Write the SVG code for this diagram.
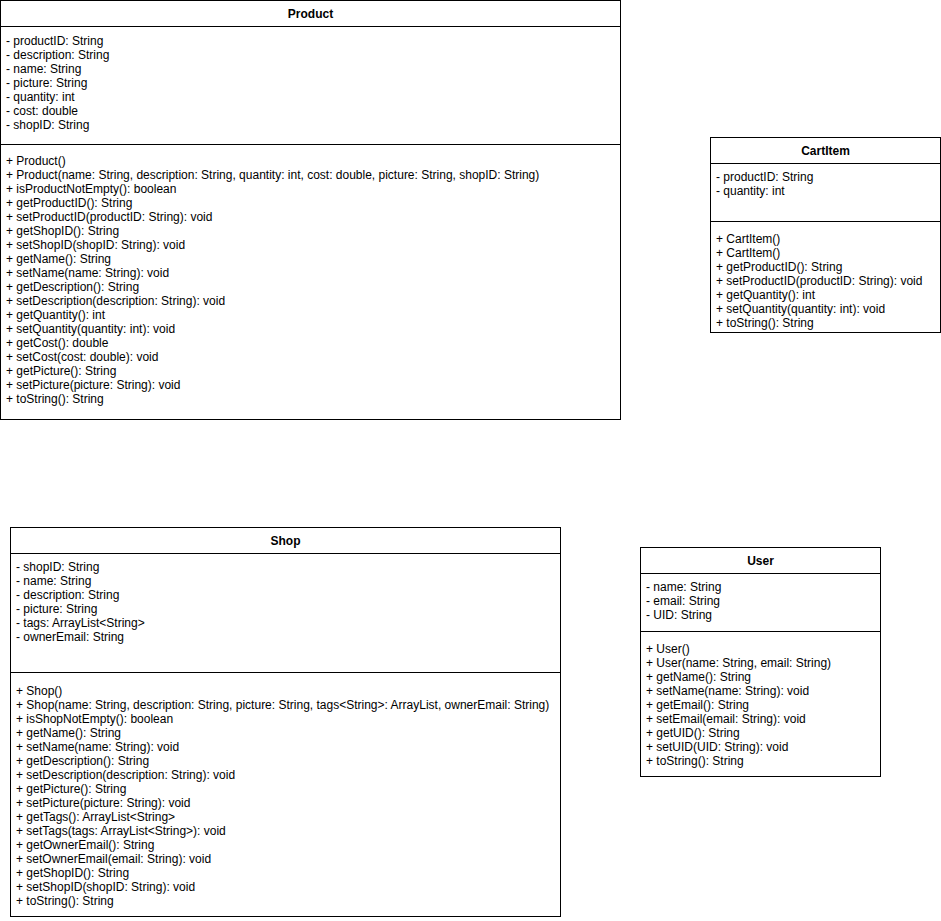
<svg xmlns="http://www.w3.org/2000/svg" width="941" height="921" viewBox="0 0 941 921">
<style>
rect.box{fill:#ffffff;stroke:#000000;stroke-width:1}
line.sep{stroke:#000000;stroke-width:1}
text{font-family:"Liberation Sans",Arial,Helvetica,sans-serif;font-size:12px;fill:#000000}
text.title{font-weight:bold;text-anchor:middle}
</style>
<rect x="0" y="0" width="941" height="921" fill="#ffffff"/>
<g id="connectors"></g>
<g id="Product">
<rect class="box" x="0.5" y="0.5" width="620" height="419"/>
<line class="sep" x1="0.5" y1="26.5" x2="620.5" y2="26.5"/>
<line class="sep" x1="0.5" y1="144.5" x2="620.5" y2="144.5"/>
<text class="title" x="310.5" y="17.5">Product</text>
<text x="6" y="45"><tspan x="6">- productID: String</tspan><tspan x="6" dy="14">- description: String</tspan><tspan x="6" dy="14">- name: String</tspan><tspan x="6" dy="14">- picture: String</tspan><tspan x="6" dy="14">- quantity: int</tspan><tspan x="6" dy="14">- cost: double</tspan><tspan x="6" dy="14">- shopID: String</tspan></text>
<text x="6" y="165"><tspan x="6">+ Product()</tspan><tspan x="6" dy="14">+ Product(name: String, description: String, quantity: int, cost: double, picture: String, shopID: String)</tspan><tspan x="6" dy="14">+ isProductNotEmpty(): boolean</tspan><tspan x="6" dy="14">+ getProductID(): String</tspan><tspan x="6" dy="14">+ setProductID(productID: String): void</tspan><tspan x="6" dy="14">+ getShopID(): String</tspan><tspan x="6" dy="14">+ setShopID(shopID: String): void</tspan><tspan x="6" dy="14">+ getName(): String</tspan><tspan x="6" dy="14">+ setName(name: String): void</tspan><tspan x="6" dy="14">+ getDescription(): String</tspan><tspan x="6" dy="14">+ setDescription(description: String): void</tspan><tspan x="6" dy="14">+ getQuantity(): int</tspan><tspan x="6" dy="14">+ setQuantity(quantity: int): void</tspan><tspan x="6" dy="14">+ getCost(): double</tspan><tspan x="6" dy="14">+ setCost(cost: double): void</tspan><tspan x="6" dy="14">+ getPicture(): String</tspan><tspan x="6" dy="14">+ setPicture(picture: String): void</tspan><tspan x="6" dy="14">+ toString(): String</tspan></text>
</g>
<g id="CartItem">
<rect class="box" x="710.5" y="137.5" width="230" height="195"/>
<line class="sep" x1="710.5" y1="163.5" x2="940.5" y2="163.5"/>
<line class="sep" x1="710.5" y1="221.5" x2="940.5" y2="221.5"/>
<text class="title" x="825.5" y="154.5">CartItem</text>
<text x="716" y="181"><tspan x="716">- productID: String</tspan><tspan x="716" dy="14">- quantity: int</tspan></text>
<text x="716" y="243"><tspan x="716">+ CartItem()</tspan><tspan x="716" dy="14">+ CartItem()</tspan><tspan x="716" dy="14">+ getProductID(): String</tspan><tspan x="716" dy="14">+ setProductID(productID: String): void</tspan><tspan x="716" dy="14">+ getQuantity(): int</tspan><tspan x="716" dy="14">+ setQuantity(quantity: int): void</tspan><tspan x="716" dy="14">+ toString(): String</tspan></text>
</g>
<g id="Shop">
<rect class="box" x="10.5" y="527.5" width="550" height="389"/>
<line class="sep" x1="10.5" y1="553.5" x2="560.5" y2="553.5"/>
<line class="sep" x1="10.5" y1="672.5" x2="560.5" y2="672.5"/>
<text class="title" x="285.5" y="544.5">Shop</text>
<text x="16" y="571"><tspan x="16">- shopID: String</tspan><tspan x="16" dy="14">- name: String</tspan><tspan x="16" dy="14">- description: String</tspan><tspan x="16" dy="14">- picture: String</tspan><tspan x="16" dy="14">- tags: ArrayList&lt;String&gt;</tspan><tspan x="16" dy="14">- ownerEmail: String</tspan></text>
<text x="16" y="695"><tspan x="16">+ Shop()</tspan><tspan x="16" dy="14">+ Shop(name: String, description: String, picture: String, tags&lt;String&gt;: ArrayList, ownerEmail: String)</tspan><tspan x="16" dy="14">+ isShopNotEmpty(): boolean</tspan><tspan x="16" dy="14">+ getName(): String</tspan><tspan x="16" dy="14">+ setName(name: String): void</tspan><tspan x="16" dy="14">+ getDescription(): String</tspan><tspan x="16" dy="14">+ setDescription(description: String): void</tspan><tspan x="16" dy="14">+ getPicture(): String</tspan><tspan x="16" dy="14">+ setPicture(picture: String): void</tspan><tspan x="16" dy="14">+ getTags(): ArrayList&lt;String&gt;</tspan><tspan x="16" dy="14">+ setTags(tags: ArrayList&lt;String&gt;): void</tspan><tspan x="16" dy="14">+ getOwnerEmail(): String</tspan><tspan x="16" dy="14">+ setOwnerEmail(email: String): void</tspan><tspan x="16" dy="14">+ getShopID(): String</tspan><tspan x="16" dy="14">+ setShopID(shopID: String): void</tspan><tspan x="16" dy="14">+ toString(): String</tspan></text>
</g>
<g id="User">
<rect class="box" x="640.5" y="547.5" width="240" height="229"/>
<line class="sep" x1="640.5" y1="573.5" x2="880.5" y2="573.5"/>
<line class="sep" x1="640.5" y1="631.5" x2="880.5" y2="631.5"/>
<text class="title" x="760.5" y="564.5">User</text>
<text x="646" y="591"><tspan x="646">- name: String</tspan><tspan x="646" dy="14">- email: String</tspan><tspan x="646" dy="14">- UID: String</tspan></text>
<text x="646" y="653"><tspan x="646">+ User()</tspan><tspan x="646" dy="14">+ User(name: String, email: String)</tspan><tspan x="646" dy="14">+ getName(): String</tspan><tspan x="646" dy="14">+ setName(name: String): void</tspan><tspan x="646" dy="14">+ getEmail(): String</tspan><tspan x="646" dy="14">+ setEmail(email: String): void</tspan><tspan x="646" dy="14">+ getUID(): String</tspan><tspan x="646" dy="14">+ setUID(UID: String): void</tspan><tspan x="646" dy="14">+ toString(): String</tspan></text>
</g>
</svg>
